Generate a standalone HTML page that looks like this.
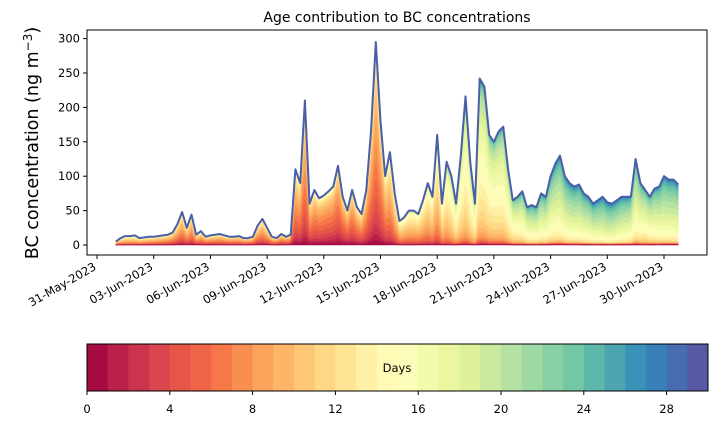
<!DOCTYPE html>
<html><head><meta charset="utf-8"><style>
body{margin:0;background:#fff}
svg{display:block;font-family:"DejaVu Sans","Liberation Sans",sans-serif}
</style></head><body>
<svg id="chart" width="717" height="425" viewBox="0 0 717 425">
<rect x="0" y="0" width="717" height="425" fill="#fff"/>
<text x="397" y="22" font-size="14" text-anchor="middle">Age contribution to BC concentrations</text>
<g id="areas"></g>
<g id="axes"></g>
<text transform="translate(38,143) rotate(-90)" font-size="17.5" text-anchor="middle">BC concentration (ng m<tspan dy="-6" font-size="12">−3</tspan><tspan dy="6">)</tspan></text>
<g id="cbar"></g>
</svg>
<script>
const dateLabels=["31-May-2023","03-Jun-2023","06-Jun-2023","09-Jun-2023","12-Jun-2023","15-Jun-2023","18-Jun-2023","21-Jun-2023","24-Jun-2023","27-Jun-2023","30-Jun-2023"];
const yTicks=[0,50,100,150,200,250,300];
const cbarTicks=[0,4,8,12,16,20,24,28];
// total BC, 6-hourly from 1 Jun 00:00
const total=[
5,10,13,13, 14,10,11,12, 12,13,14,15, 18,30,48,25, 44,15,20,12,
14,15,16,14, 12,12,13,10, 10,12,28,38, 25,12,10,16, 12,15,110,90,
210,60,80,68, 72,78,85,115, 70,50,80,55, 45,80,165,295, 180,100,135,75,
35,40,50,50, 45,65,90,70, 160,60,121,100, 60,130,216,120, 60,242,230,160,
150,165,172,110, 65,70,78,55, 58,55,75,70, 100,118,130,100, 90,85,88,75,
70,60,65,70, 62,60,65,70, 70,70,125,90, 80,70,82,85, 100,95,95,88];
// daily mean age (days) of BC
const meanAge=[10,10,9,8,8,8,8,8,8,7,7,6,6,7,7,10,10,11,14,15,15,16,18,18,19,19,20,19,17,19];
const NS="http://www.w3.org/2000/svg";
const X0=97,PXD=18.9,Y0=245,PYU=0.688;
const xs=d=>X0+d*PXD, ys=v=>Y0-v*PYU;
const anchors=["#9e0142","#d53e4f","#f46d43","#fdae61","#fee08b","#ffffbf","#e6f598","#abdda4","#66c2a5","#3288bd","#5e4fa2"];
function hex(h){return[1,3,5].map(i=>parseInt(h.substr(i,2),16))}
function spectral(t){const p=t*10,i=Math.min(9,Math.floor(p)),f=p-i,a=hex(anchors[i]),b=hex(anchors[i+1]);return"rgb("+a.map((v,k)=>Math.round(v+(b[k]-v)*f)).join(",")+")";}
const N=30,cols=[];for(let k=0;k<N;k++)cols.push(spectral((k+0.5)/N));
function mk(tag,attrs,parent){const e=document.createElementNS(NS,tag);for(const a in attrs)e.setAttribute(a,attrs[a]);parent.appendChild(e);return e;}
// stack
const areas=document.getElementById('areas');
const cum=total.map((tv,i)=>{const d=i/4,j=Math.min(29,Math.floor(d)),j2=Math.min(29,j+1),f=d-j;const m=meanAge[j]*(1-f)+meanAge[j2]*f;
 const w=[];let s=0;for(let k=0;k<N;k++){const x=Math.exp(-Math.pow(k-m,2)/(2*16))+0.03;w.push(x);s+=x;}
 const c=[0];for(let k=0;k<N;k++)c.push(c[k]+tv*w[k]/s);return c;});
const tx=i=>xs(1+i/4);
for(let k=N-1;k>=0;k--){let pts=[];for(let i=0;i<total.length;i++)pts.push(tx(i).toFixed(1)+","+ys(cum[i][k+1]).toFixed(1));
 for(let i=total.length-1;i>=0;i--)pts.push(tx(i).toFixed(1)+","+ys(cum[i][k]).toFixed(1));
 const p=mk('polygon',{points:pts.join(" "),fill:cols[k],stroke:cols[k],'stroke-width':0.6},areas);
 
 }
const totalLine=mk('polyline',{points:total.map((v,i)=>tx(i).toFixed(1)+","+ys(v).toFixed(1)).join(" "),fill:"none",stroke:"#4a5fa8","stroke-width":2,"stroke-linejoin":"round"},areas);


// axes
const ax=document.getElementById('axes');
mk('rect',{x:87,y:30,width:620,height:225,fill:"none",stroke:"#000","stroke-width":1},ax);
yTicks.forEach(v=>{const y=ys(v);mk('line',{x1:83,x2:87,y1:y,y2:y,stroke:"#000"},ax);
 const t=mk('text',{x:80,y:y+4,"font-size":11.5,"text-anchor":"end"},ax);t.textContent=v;
 
 });
dateLabels.forEach((l,i)=>{const x=xs(i*3);mk('line',{x1:x,x2:x,y1:255,y2:259,stroke:"#000"},ax);
 const t=mk('text',{transform:"translate("+(x)+",269) rotate(-30)","font-size":11.5,"text-anchor":"end"},ax);t.textContent=l;
 
 });
// colorbar
const cb=document.getElementById('cbar');const CX=87,CW=621,CY=344,CH=47;
for(let k=0;k<N;k++){const r=mk('rect',{x:CX+k*CW/N,y:CY,width:CW/N+0.5,height:CH,fill:cols[k]},cb);
 
 }
mk('rect',{x:CX,y:CY,width:CW,height:CH,fill:"none",stroke:"#000"},cb);
const dl=mk('text',{x:397,y:372,"font-size":11.5,"text-anchor":"middle"},cb);dl.textContent="Days";


cbarTicks.forEach(v=>{const x=CX+v*CW/30;mk('line',{x1:x,x2:x,y1:CY+CH,y2:CY+CH+4,stroke:"#000"},cb);
 const t=mk('text',{x:x,y:413,"font-size":11.5,"text-anchor":"middle"},cb);t.textContent=v;
 
 });
</script>
</body></html>
